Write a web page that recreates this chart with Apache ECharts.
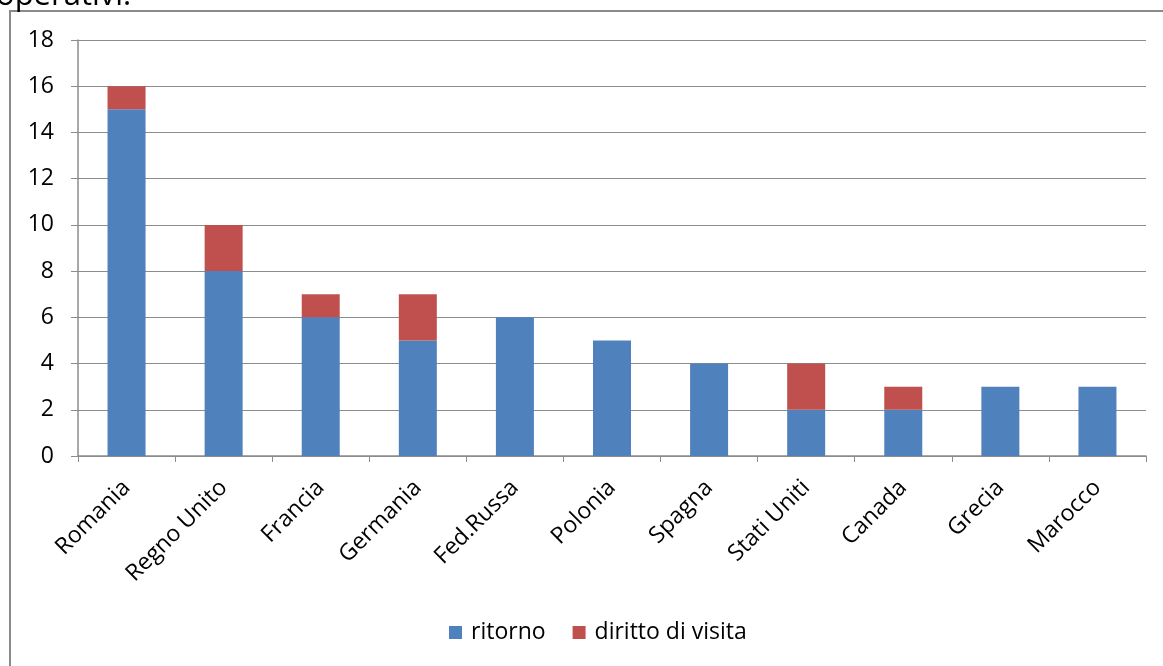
<!DOCTYPE html>
<html>
<head>
<meta charset="utf-8">
<script src="https://cdn.jsdelivr.net/npm/echarts@6/dist/echarts.min.js"></script>
<style>
  html, body { margin: 0; padding: 0; background: #fff; }
  #chart { width: 1163px; height: 666px; }
</style>
</head>
<body>
<div id="chart"></div>
<script>
// dati
const categories = ["Romania", "Regno Unito", "Francia", "Germania", "Fed.Russa", "Polonia", "Spagna", "Stati Uniti", "Canada", "Grecia", "Marocco"];
const ritorno = [15, 8, 6, 5, 6, 5, 4, 2, 2, 3, 3];
const dirittoVisita = [1, 2, 1, 2, 0, 0, 0, 2, 1, 0, 0];
const seriesNames = ["ritorno", "diritto di visita"];

const font = "'Open Sans', sans-serif";
const gridColor = "#8c8c8c";

let chart = echarts.init(document.getElementById("chart"));

let option = {
  animation: false,
  textStyle: { fontFamily: font },
  graphic: [
    {
      type: "rect",
      shape: { x: 10, y: 11, width: 1200, height: 720 },
      style: { fill: "none", stroke: "#8a8a8a", lineWidth: 2 },
      silent: true
    },
    {
      type: "text",
      left: -4,
      top: -19,
      style: { text: "operativi.", font: "31px " + font, fill: "#000" },
      silent: true
    }
  ],
  grid: {
    left: 78,
    right: 17,
    top: 40,
    bottom: 210
  },
  legend: {
    data: seriesNames,
    bottom: 17,
    left: 444,
    itemWidth: 13,
    itemHeight: 13,
    itemGap: 27,
    icon: "rect",
    textStyle: { fontSize: 23, color: "#000", fontFamily: font, padding: [0, 0, 0, 4] }
  },
  xAxis: {
    type: "category",
    data: categories,
    axisLine: { lineStyle: { color: gridColor, width: 1.5 } },
    axisTick: { show: true, length: 6, lineStyle: { color: gridColor } },
    axisLabel: {
      rotate: 45,
      interval: 0,
      fontSize: 23,
      color: "#000",
      margin: 28,
      fontFamily: font
    }
  },
  yAxis: {
    type: "value",
    min: 0,
    max: 18,
    interval: 2,
    axisLine: { show: true, lineStyle: { color: gridColor, width: 1.5 } },
    axisTick: { show: true, length: 7, lineStyle: { color: gridColor } },
    axisLabel: { fontSize: 23, color: "#000", margin: 24, fontFamily: font },
    splitLine: { lineStyle: { color: gridColor, width: 1.2 } }
  },
  series: [
    {
      name: seriesNames[0],
      type: "bar",
      stack: "tot",
      data: ritorno,
      barWidth: 38,
      itemStyle: { color: "#4F81BD" }
    },
    {
      name: seriesNames[1],
      type: "bar",
      stack: "tot",
      data: dirittoVisita,
      barWidth: 38,
      itemStyle: { color: "#C0504D" }
    }
  ]
};

chart.setOption(option, true);
</script>
</body>
</html>
